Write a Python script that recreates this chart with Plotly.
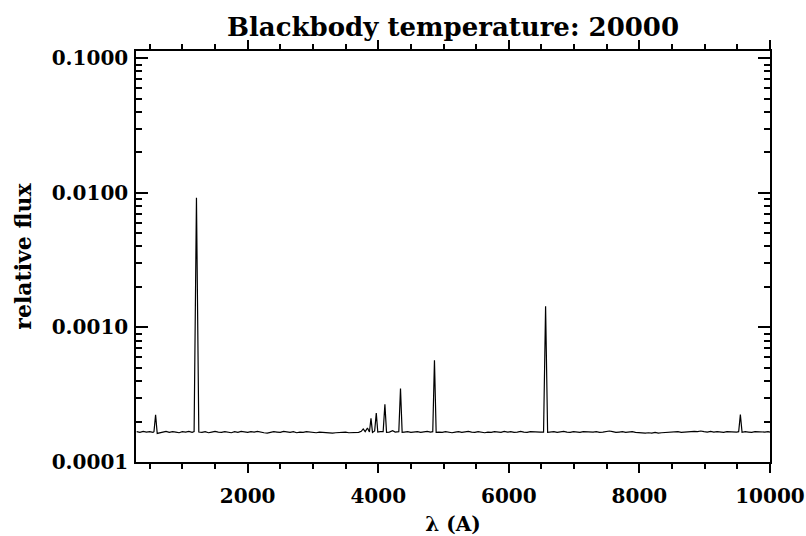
import numpy as np
import plotly.graph_objects as go

# spectrum samples (wavelength in Angstrom, flux in units of 1e-4)
wave_far_uv = [300, 350, 400, 450, 500, 550, 565, 590, 615, 650, 700, 750, 800, 850, 900, 950,
               1000, 1050, 1100, 1150, 1180, 1216, 1252, 1300, 1350, 1400, 1450, 1500, 1550,
               1600, 1650, 1700, 1750, 1800, 1850, 1900, 1950]
flux_far_uv = [1.68, 1.66, 1.69, 1.67, 1.68, 1.66, 1.68, 2.24, 1.63, 1.65, 1.67, 1.69, 1.66, 1.68, 1.67, 1.65,
               1.68, 1.67, 1.69, 1.66, 1.68, 92.0, 1.67, 1.66, 1.68, 1.65, 1.67, 1.69, 1.67,
               1.66, 1.68, 1.67, 1.65, 1.68, 1.66, 1.69, 1.67]

wave_near_uv = [2000, 2050, 2100, 2150, 2200, 2250, 2300, 2350, 2400, 2450, 2500, 2550, 2600, 2650,
                2700, 2750, 2800, 2850, 2900, 2950, 3000, 3050, 3100, 3150, 3200, 3250, 3300, 3350,
                3400, 3450, 3500, 3550, 3600, 3650]
flux_near_uv = [1.66, 1.68, 1.67, 1.69, 1.66, 1.65, 1.64, 1.66, 1.68, 1.67, 1.66, 1.69, 1.67, 1.66,
                1.68, 1.65, 1.67, 1.66, 1.68, 1.67, 1.66, 1.65, 1.67, 1.66, 1.65, 1.66, 1.64, 1.65,
                1.66, 1.65, 1.67, 1.65, 1.66, 1.65]

wave_balmer = [3700, 3740, 3770, 3800, 3835, 3865, 3889, 3912, 3945, 3970, 3993, 4030, 4075, 4102,
               4127, 4170, 4220, 4260, 4315, 4341, 4366, 4400, 4450, 4500, 4550, 4600, 4650, 4700,
               4750, 4800, 4835, 4861, 4887, 4930]
flux_balmer = [1.66, 1.69, 1.76, 1.68, 1.79, 1.67, 2.11, 1.66, 1.70, 2.31, 1.67, 1.68, 1.68, 2.68,
               1.66, 1.67, 1.71, 1.67, 1.68, 3.52, 1.66, 1.67, 1.68, 1.66, 1.67, 1.68, 1.66, 1.67,
               1.69, 1.67, 1.68, 5.71, 1.66, 1.67]

wave_visual = [4980, 5030, 5080, 5130, 5180, 5230, 5280, 5330, 5380, 5430, 5480, 5530, 5580, 5630,
               5680, 5730, 5780, 5830, 5880, 5930, 5980, 6030, 6080, 6130, 6180, 6230, 6280, 6330,
               6380, 6430, 6480, 6532, 6563, 6594]
flux_visual = [1.66, 1.68, 1.67, 1.65, 1.67, 1.68, 1.66, 1.67, 1.69, 1.67, 1.66, 1.68, 1.67, 1.65,
               1.67, 1.66, 1.68, 1.67, 1.66, 1.69, 1.67, 1.68, 1.66, 1.67, 1.69, 1.67, 1.66, 1.68,
               1.67, 1.66, 1.67, 1.67, 14.4, 1.66]

wave_red = [6640, 6690, 6740, 6790, 6840, 6890, 6940, 6990, 7040, 7090, 7140, 7190, 7240, 7290,
            7340, 7390, 7440, 7490, 7540, 7590, 7640, 7690, 7740, 7790, 7840, 7890, 7940, 7990,
            8040, 8090, 8140, 8190, 8240, 8290, 8340, 8390, 8440, 8490, 8540, 8590, 8640, 8690,
            8740, 8790, 8840, 8890, 8940, 8990, 9040, 9090, 9140, 9190, 9240, 9290, 9340, 9390,
            9440, 9490, 9520, 9546, 9572, 9620, 9670, 9720, 9770, 9820, 9870, 9920, 9970, 10000]
flux_red = [1.67, 1.68, 1.66, 1.67, 1.69, 1.67, 1.66, 1.68, 1.67, 1.66, 1.68, 1.67, 1.66, 1.67,
            1.68, 1.66, 1.67, 1.68, 1.70, 1.68, 1.66, 1.67, 1.68, 1.66, 1.67, 1.68, 1.66, 1.65,
            1.66, 1.64, 1.65, 1.64, 1.66, 1.64, 1.65, 1.66, 1.67, 1.66, 1.67, 1.68, 1.66, 1.67,
            1.68, 1.67, 1.69, 1.68, 1.70, 1.68, 1.67, 1.69, 1.67, 1.68, 1.67, 1.66, 1.68, 1.67,
            1.66, 1.67, 1.68, 2.25, 1.66, 1.68, 1.67, 1.66, 1.68, 1.67, 1.66, 1.67, 1.68, 1.67]

x_ticks = [2000, 4000, 6000, 8000, 10000]
x_ticktext = ["2000", "4000", "6000", "8000", "10000"]
y_ticks = [1e-4, 1e-3, 1e-2, 1e-1]
y_ticktext = ["0.0001", "0.0010", "0.0100", "0.1000"]

wave = wave_far_uv + wave_near_uv + wave_balmer + wave_visual + wave_red
flux = np.array(flux_far_uv + flux_near_uv + flux_balmer + flux_visual + flux_red) * 1e-4
assert len(wave) == len(flux)

x_minor = [v for v in range(500, 10000, 500) if v not in x_ticks]
y_minor = [m * d for d in (1e-4, 1e-3, 1e-2) for m in range(2, 10)]

font = "DejaVu Serif"
fig = go.Figure()
fig.add_trace(go.Scatter(x=wave, y=flux, mode="lines", line=dict(color="black", width=1.2),
                         showlegend=False))

axis_common = dict(showline=True, linecolor="black", linewidth=1.5, mirror="ticks",
                   tickcolor="black", tickwidth=1.5, showgrid=False, zeroline=False,
                   automargin=False,
                   tickfont=dict(family=font, size=20, color="black", weight="bold"))

fig.update_layout(
    width=806,
    height=536,
    margin=dict(l=136, r=36, t=51, b=74),
    paper_bgcolor="white",
    plot_bgcolor="white",
    font=dict(family=font, color="black", weight="bold"),
    title=dict(text="Blackbody temperature: 20000", x=0.5, xref="paper", xanchor="center",
               y=1 - 27 / 536, yref="container", yanchor="middle", automargin=False,
               font=dict(family=font, size=26, color="black", weight="bold")),
    xaxis=dict(
        range=[290, 10000], tickvals=x_ticks, ticktext=x_ticktext, ticks="outside", ticklen=9,
        minor=dict(tickvals=x_minor, ticks="outside", ticklen=5, tickwidth=1.5, tickcolor="black"),
        title=dict(text="λ (A)", font=dict(family=font, size=20, color="black", weight="bold"), standoff=12),
        ticklabelstandoff=6,
        **axis_common,
    ),
    yaxis=dict(
        type="log", range=[-4, -0.945], tickvals=y_ticks, ticktext=y_ticktext,
        ticks="inside", ticklen=12,
        minor=dict(tickvals=y_minor, ticks="inside", ticklen=6, tickwidth=1.5, tickcolor="black"),
        title=dict(text="relative flux", font=dict(family=font, size=22, color="black", weight="bold"), standoff=14),
        ticklabelstandoff=2,
        **axis_common,
    ),
)

# drop the browser's default page margin so the figure fills the window
fig.write_html("out.html", config={"displayModeBar": False},
               post_script="document.body.style.margin='0px';")
